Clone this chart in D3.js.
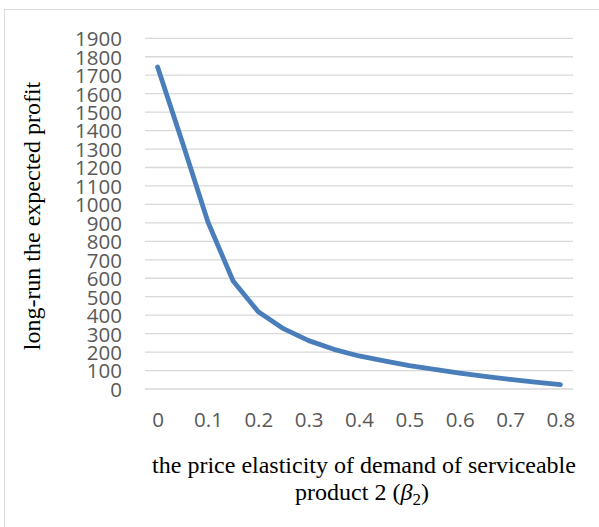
<!DOCTYPE html>
<html>
<head>
<meta charset="utf-8">
<script src="https://cdn.jsdelivr.net/npm/d3@7"></script>
<style>
  html, body { margin: 0; padding: 0; background: #fff; }
  svg { display: block; }
</style>
</head>
<body>
<svg id="chart" width="599" height="527"></svg>
<script>
// Price elasticity of demand (beta_2) sampled every 0.05
const categories = ["0", "0.05", "0.1", "0.15", "0.2", "0.25", "0.3", "0.35", "0.4",
                    "0.45", "0.5", "0.55", "0.6", "0.65", "0.7", "0.75", "0.8"];
// Long-run expected profit at each elasticity value
const profit = [1745, 1330, 905, 585, 418, 327, 262, 215, 179,
                152, 127, 106, 86, 68, 52, 37, 24];
// Category axis shows every second label
const xTickLabels = ["0", "0.1", "0.2", "0.3", "0.4", "0.5", "0.6", "0.7", "0.8"];
const yTicks = d3.range(0, 2000, 100);

const svg = d3.select("#chart");
const plot = { left: 145, right: 573, top: 38.3, bottom: 389 };

// Outer chart frame
svg.append("rect")
  .attr("x", 4.5).attr("y", 9.5)
  .attr("width", 620).attr("height", 540)
  .attr("fill", "none")
  .attr("stroke", "#d9d9d9")
  .attr("stroke-width", 1);

const x = d3.scalePoint()
  .domain(categories)
  .range([plot.left, plot.right])
  .padding(0.5);

const y = d3.scaleLinear()
  .domain([0, 1900])
  .range([plot.bottom, plot.top]);

// Horizontal gridlines
svg.append("g")
  .selectAll("line")
  .data(yTicks)
  .join("line")
  .attr("x1", plot.left).attr("x2", plot.right)
  .attr("y1", d => y(d)).attr("y2", d => y(d))
  .attr("stroke", "#d9d9d9")
  .attr("stroke-width", 1.3);

// Y axis tick labels
const yAxis = d3.axisLeft(y)
  .tickValues(yTicks)
  .tickFormat(d3.format("d"))
  .tickSize(0)
  .tickPadding(0);
svg.append("g")
  .attr("transform", `translate(122,0)`)
  .call(yAxis)
  .call(g => g.select(".domain").remove())
  .call(g => g.selectAll("text")
    .attr("fill", "#595959")
    .attr("font-family", "'Open Sans', sans-serif")
    .attr("font-size", "20.5px")
    .attr("dy", "0.36em"));

// X axis tick labels (every other category)
const xAxis = d3.axisBottom(x)
  .tickValues(xTickLabels)
  .tickSize(0)
  .tickPadding(0);
svg.append("g")
  .attr("transform", `translate(0,${plot.bottom})`)
  .call(xAxis)
  .call(g => g.select(".domain").remove())
  .call(g => g.selectAll("text")
    .attr("fill", "#595959")
    .attr("font-family", "'Open Sans', sans-serif")
    .attr("font-size", "20.5px")
    .attr("y", 0)
    .attr("dy", "38px"));

// Profit curve
const line = d3.line()
  .x((d, i) => x(categories[i]))
  .y(d => y(d));

svg.append("path")
  .datum(profit)
  .attr("d", line)
  .attr("fill", "none")
  .attr("stroke", "#4A7EBB")
  .attr("stroke-width", 4.8)
  .attr("stroke-linecap", "round")
  .attr("stroke-linejoin", "round");

// Axis titles
svg.append("text")
  .attr("transform", "translate(40,216) rotate(-90)")
  .attr("text-anchor", "middle")
  .attr("font-family", "'Liberation Serif', 'Times New Roman', serif")
  .attr("font-size", "24px")
  .attr("fill", "#000")
  .text("long-run the expected profit");

const xt = svg.append("text")
  .attr("text-anchor", "middle")
  .attr("font-family", "'Liberation Serif', 'Times New Roman', serif")
  .attr("font-size", "24px")
  .attr("fill", "#000");
xt.append("tspan").attr("x", 364).attr("y", 473)
  .text("the price elasticity of demand of serviceable");
const l2 = xt.append("tspan").attr("x", 362).attr("y", 500);
l2.append("tspan").text("product 2 (");
l2.append("tspan").attr("font-style", "italic").text("β");
l2.append("tspan").attr("font-size", "17px").attr("dy", "5").text("2");
l2.append("tspan").attr("dy", "-5").text(")");
</script>
</body>
</html>
